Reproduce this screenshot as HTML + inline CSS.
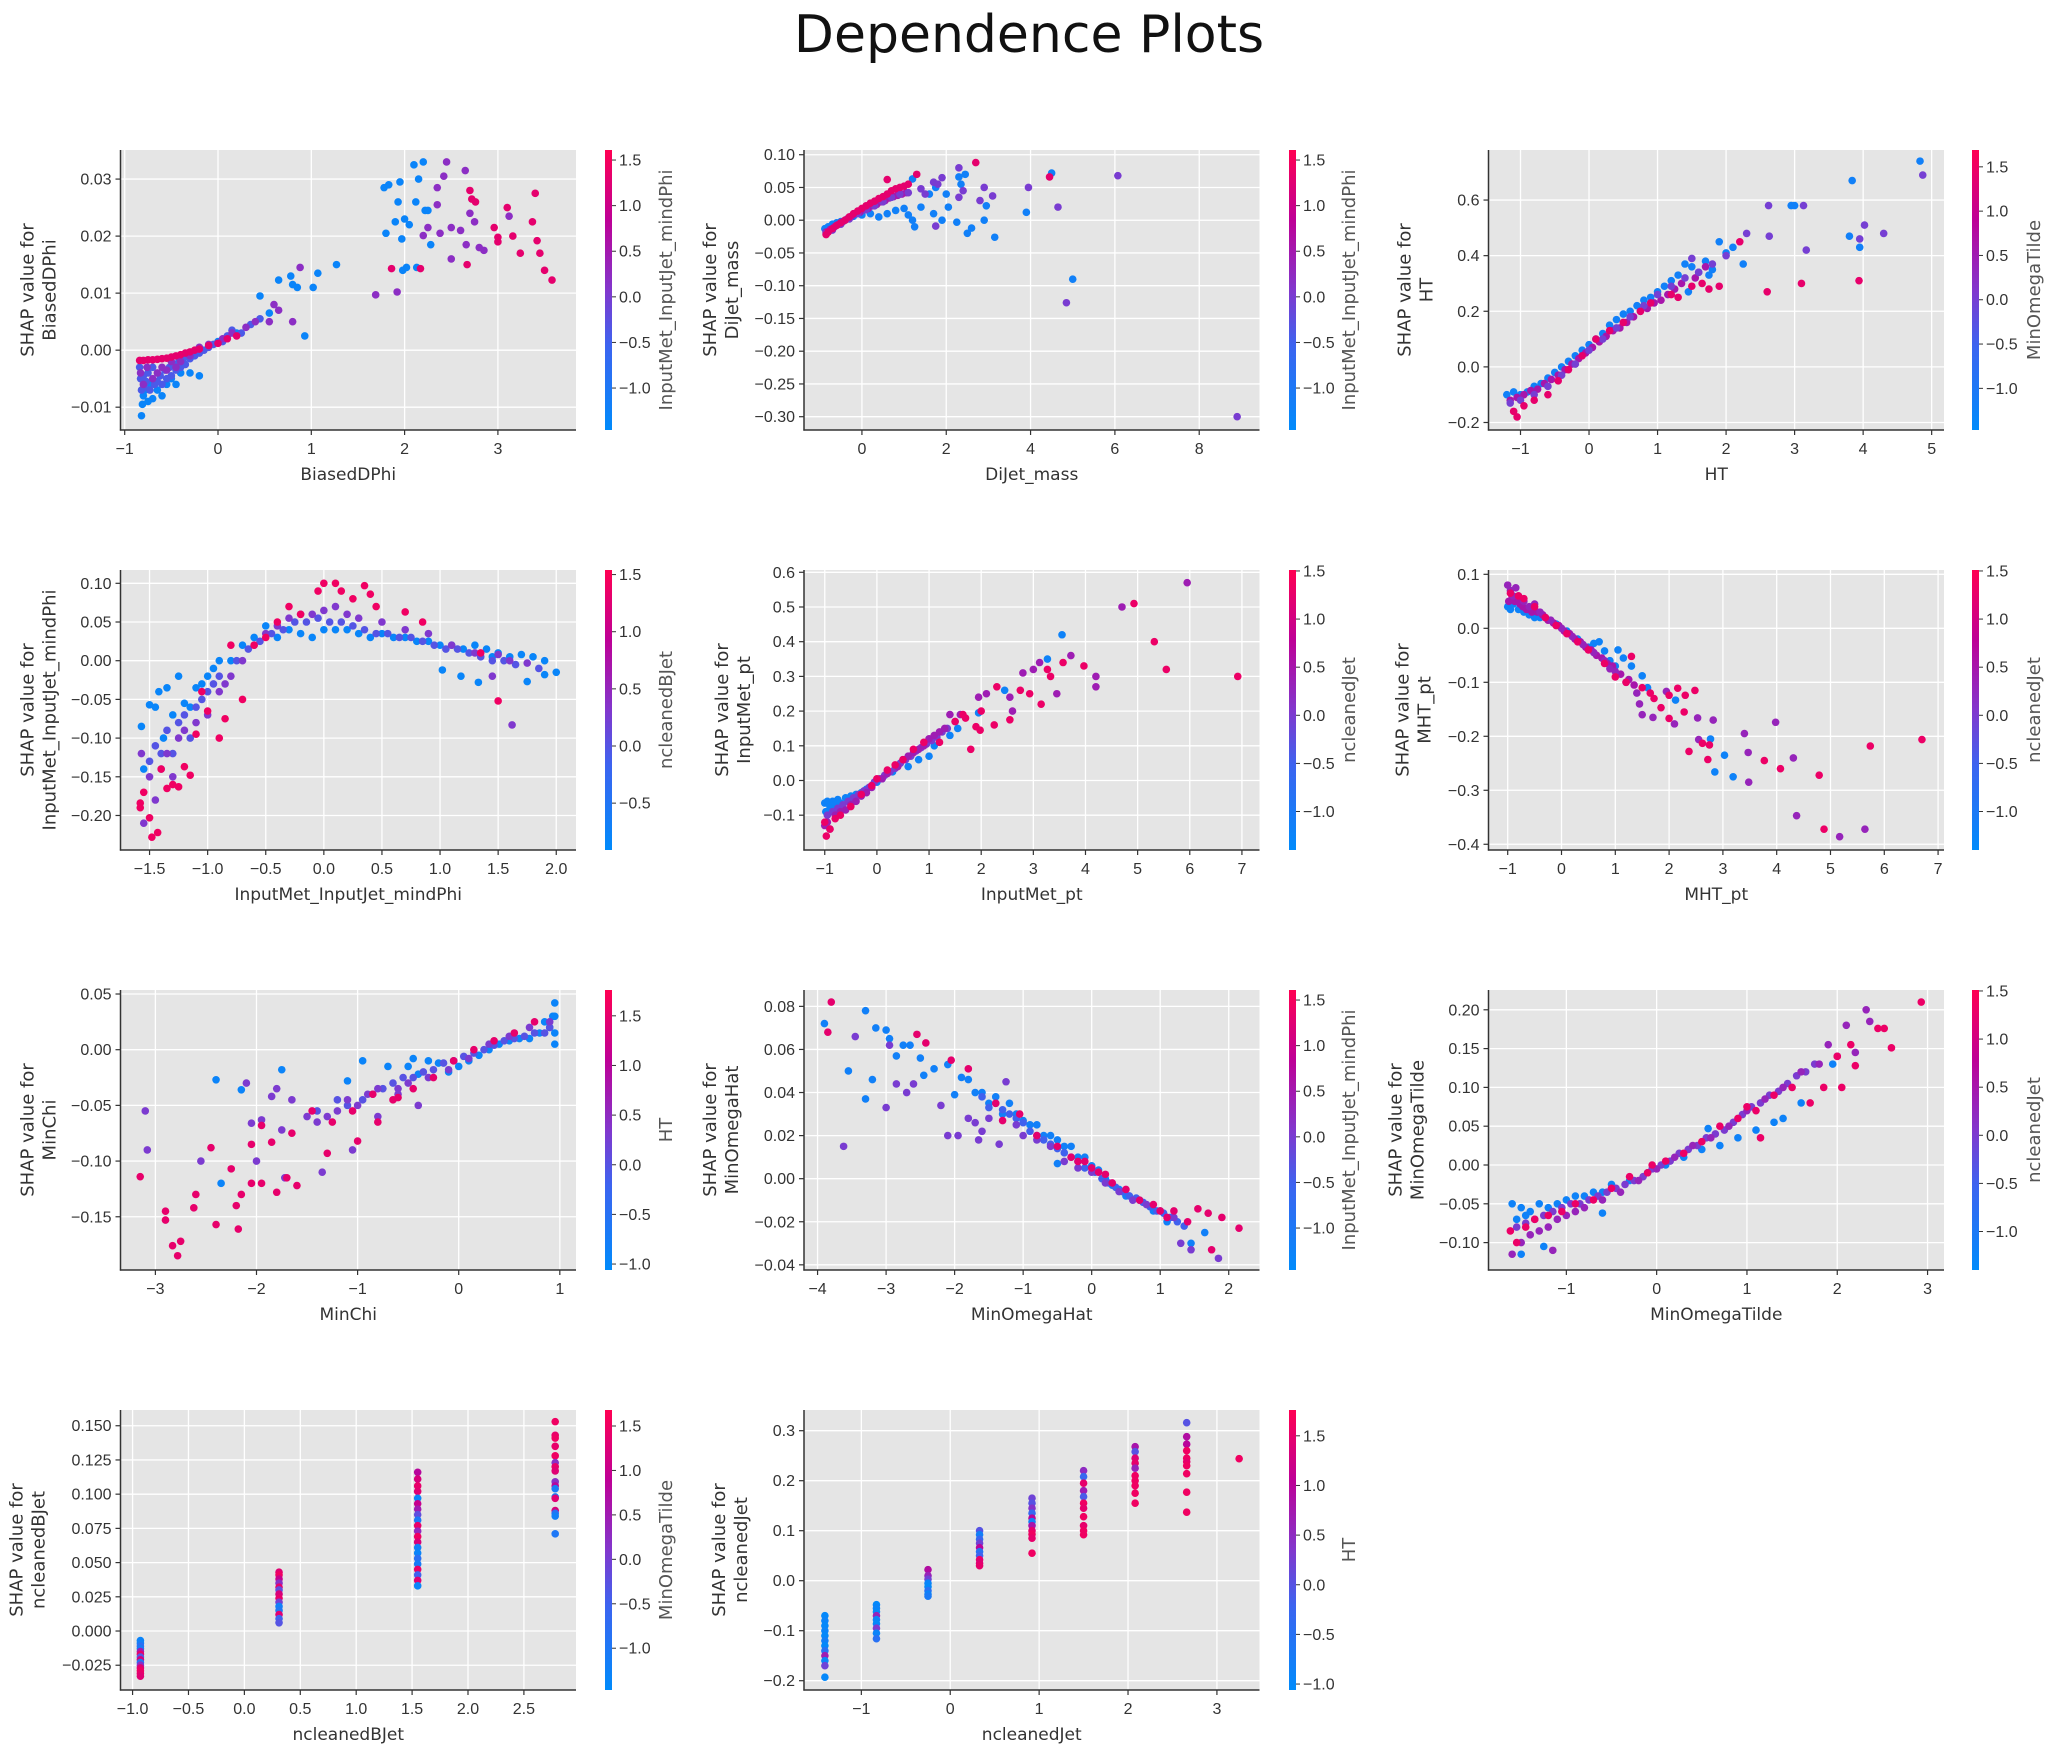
<!DOCTYPE html>
<html>
<head>
<meta charset="utf-8">
<style>
html,body{margin:0;padding:0;background:#fff;}
svg{display:block;}
</style>
</head>
<body>
<svg id="fig" xmlns="http://www.w3.org/2000/svg" width="2059" height="1748" viewBox="0 0 2059 1748">
<defs>
<linearGradient id="cmap" x1="0" y1="1" x2="0" y2="0">
<stop offset="0" stop-color="rgb(0,139,251)"/>
<stop offset="0.3" stop-color="rgb(60,100,240)"/>
<stop offset="0.5" stop-color="rgb(130,55,205)"/>
<stop offset="0.75" stop-color="rgb(190,0,150)"/>
<stop offset="1" stop-color="rgb(255,0,82)"/>
</linearGradient>
</defs>
<text x="1029" y="52" text-anchor="middle" font-family="DejaVu Sans, Liberation Sans, sans-serif" font-size="52" fill="#111">Dependence Plots</text>
</svg>
<script>
// ---------- data (hand-read estimates) ----------
// P1 BiasedDPhi
const p1_x = [[-0.82,-0.81,-0.8,-0.78,-0.75,-0.72,-0.7,-0.65,-0.6,-0.55,-0.5,-0.45,-0.4,-0.3,-0.2,0,0.2,0.45,0.55,0.65,0.78,0.8,0.85,1.02,1.07,1.27,0.93,1.78,1.8,1.83,1.95,1.97,2.0,2.05,2.1,2.12,2.15,2.2,2.22,2.25,2.28,1.9,1.93,2.02,2.13,1.98],
 [-0.84,-0.83,-0.82,-0.8,-0.79,-0.77,-0.75,-0.73,-0.7,-0.68,-0.65,-0.62,-0.6,-0.57,-0.55,-0.52,-0.5,-0.47,-0.45,-0.42,-0.4,-0.37,-0.35,-0.3,-0.25,-0.2,-0.15,-0.1,-0.05,0.05,0.1,0.15,0.25,0.35,0.45],
 [-0.83,-0.8,-0.76,-0.7,-0.65,-0.6,-0.55,-0.5,-0.45,-0.4,-0.3,-0.2,-0.1,0.05,0.15,0.3,0.4,0.55,0.6,0.65,0.8,0.88,2.35,2.42,2.45,2.5,2.6,2.65,2.7,2.75,2.8,2.25,2.35,2.38,2.5,2.66,2.85,1.69,1.92,3.12,2.2],
 [-0.84,-0.8,-0.75,-0.7,-0.65,-0.6,-0.55,-0.5,-0.45,-0.4,-0.35,-0.3,-0.25,-0.2,-0.1,0.0,0.1,0.2,2.7,2.72,2.76,2.96,3.0,3.1,3.16,3.24,3.37,3.4,3.45,3.5,3.58,3.42,1.86,2.17,2.67,3.0]];
const p1_y = [[-0.0115,-0.0095,-0.008,-0.007,-0.009,-0.006,-0.0085,-0.007,-0.008,-0.006,-0.005,-0.006,-0.004,-0.004,-0.0045,0.0015,0.003,0.0095,0.0065,0.0123,0.013,0.0115,0.011,0.011,0.0135,0.015,0.0025,0.0285,0.0205,0.029,0.0295,0.0195,0.023,0.022,0.0325,0.026,0.03,0.033,0.0245,0.0245,0.0185,0.0225,0.026,0.0145,0.0145,0.014],
 [-0.003,-0.005,-0.007,-0.0045,-0.0065,-0.0055,-0.004,-0.007,-0.003,-0.006,-0.0055,-0.0045,-0.006,-0.0035,-0.005,-0.003,-0.0045,-0.0025,-0.0035,-0.002,-0.003,-0.0015,-0.0025,-0.0015,-0.001,-0.0005,0.0,0.0005,0.001,0.0015,0.0025,0.0035,0.003,0.0045,0.0055],
 [-0.004,-0.006,-0.003,-0.005,-0.004,-0.003,-0.0035,-0.002,-0.003,-0.002,-0.001,0.0005,0.001,0.002,0.003,0.004,0.005,0.005,0.008,0.007,0.005,0.0145,0.0285,0.0305,0.033,0.0215,0.021,0.0315,0.024,0.0225,0.018,0.0215,0.0255,0.0205,0.016,0.0185,0.0175,0.0097,0.0102,0.0235,0.0201],
 [-0.0018,-0.0018,-0.0017,-0.0017,-0.0016,-0.0015,-0.0014,-0.0012,-0.001,-0.0008,-0.0005,-0.0003,0,0.0002,0.0008,0.0012,0.002,0.0025,0.028,0.0265,0.026,0.0215,0.019,0.025,0.02,0.017,0.0225,0.0275,0.017,0.014,0.0123,0.0192,0.0143,0.0143,0.015,0.0198]];
const p1_c = [-1.3, -0.4, 0.2, 1.3];

// P2 DiJet_mass
const p2_x = [[-0.88,-0.8,-0.7,-0.6,-0.5,-0.4,-0.3,-0.2,0,0.2,0.4,0.6,0.8,1.0,1.1,1.2,1.25,1.4,1.6,1.7,1.9,2.0,2.05,2.25,2.3,2.35,2.45,2.5,2.6,2.9,2.95,3.15,1.75,1.2,4.5,3.9,5.0],
 [-0.85,-0.75,-0.65,-0.55,-0.45,-0.35,-0.25,-0.15,-0.05,0.05,0.15,0.25,0.35,0.45,0.55,0.65,0.75,0.85,0.95,1.05],
 [-0.85,-0.7,-0.5,-0.3,-0.1,0.1,0.3,0.5,0.7,0.9,1.1,1.4,1.5,1.7,1.8,1.9,2.3,2.4,2.8,2.9,3.1,1.75,2.3,3.95,4.65,4.85,6.07,8.9],
 [-0.85,-0.8,-0.7,-0.6,-0.5,-0.4,-0.3,-0.2,-0.1,0,0.1,0.2,0.3,0.4,0.5,0.6,0.7,0.8,0.9,1.0,1.1,2.7,1.3,0.6,4.45]];
const p2_y = [[-0.013,-0.01,-0.006,-0.004,-0.002,0.0,0.003,0.006,0.008,0.01,0.005,0.01,0.015,0.018,0.008,0.0,-0.01,0.02,0.04,0.01,0.0,0.04,0.02,-0.003,0.066,0.055,0.07,-0.02,-0.012,0.0,0.022,-0.026,0.05,0.063,0.072,0.012,-0.09],
 [-0.018,-0.014,-0.01,-0.006,-0.002,0.002,0.006,0.01,0.012,0.016,0.018,0.022,0.024,0.028,0.03,0.034,0.036,0.038,0.04,0.042],
 [-0.02,-0.015,-0.006,0.002,0.01,0.016,0.022,0.028,0.035,0.04,0.042,0.048,0.04,0.058,0.055,0.065,0.035,0.045,0.03,0.05,0.037,-0.009,0.08,0.05,0.02,-0.126,0.068,-0.30],
 [-0.022,-0.018,-0.013,-0.008,-0.004,0.0,0.005,0.01,0.014,0.018,0.022,0.026,0.029,0.033,0.036,0.04,0.045,0.048,0.05,0.052,0.055,0.088,0.07,0.062,0.066]];
const p2_c = [-1.2, 0.5, 0.0, 1.3];

// P3 HT
const p3_x = [[-1.2,-1.1,-1.0,-0.9,-0.8,-0.7,-0.6,-0.5,-0.4,-0.3,-0.2,-0.1,0,0.1,0.2,0.3,0.4,0.5,0.6,0.7,0.8,0.9,1.0,1.1,1.2,1.3,1.4,1.5,1.6,1.7,1.75,1.8,1.9,2.0,2.1,2.25,3.84,4.83,2.95,3.0,3.8,3.95,1.45],
 [-1.15,-1.05,-0.95,-0.85,-0.75,-0.65,-0.55,-0.45,-0.35,-0.25,-0.15,-0.05,0.05,0.15,0.25,0.35,0.45,0.55,0.65,0.75,0.85,0.95,1.05,1.15,1.25,1.35,1.55,1.7],
 [-1.15,-1.0,-0.8,-0.6,-0.4,-0.2,0,0.2,0.4,0.6,0.8,1.0,1.2,1.4,1.6,1.8,2.0,2.3,2.62,2.63,3.13,3.17,3.95,4.02,4.3,4.87,1.5],
 [-1.1,-1.05,-0.95,-0.8,-0.6,-0.45,-0.3,-0.1,0.1,0.3,0.5,0.75,0.9,1.2,1.3,1.5,1.65,1.9,2.2,2.6,3.1,3.94,1.75]];
const p3_y = [[-0.10,-0.09,-0.1,-0.09,-0.07,-0.06,-0.04,-0.02,0.0,0.02,0.04,0.06,0.08,0.1,0.12,0.15,0.17,0.19,0.2,0.22,0.24,0.25,0.27,0.29,0.31,0.33,0.37,0.36,0.34,0.38,0.33,0.35,0.45,0.41,0.43,0.37,0.67,0.74,0.58,0.58,0.47,0.43,0.27],
 [-0.12,-0.11,-0.1,-0.085,-0.08,-0.06,-0.045,-0.03,-0.01,0.01,0.03,0.05,0.07,0.09,0.11,0.13,0.14,0.16,0.18,0.2,0.21,0.23,0.24,0.26,0.28,0.3,0.32,0.36],
 [-0.13,-0.12,-0.1,-0.07,-0.03,0.01,0.06,0.1,0.14,0.18,0.22,0.26,0.29,0.32,0.34,0.37,0.40,0.48,0.58,0.47,0.58,0.42,0.46,0.51,0.48,0.69,0.39],
 [-0.16,-0.18,-0.14,-0.12,-0.1,-0.05,-0.01,0.04,0.1,0.13,0.16,0.2,0.23,0.26,0.25,0.29,0.3,0.29,0.45,0.27,0.3,0.31,0.28]];
const p3_c = [-1.2, 0.6, 0.0, 1.4];

// P4 InputMet_InputJet_mindPhi
const p4_x = [[-1.57,-1.55,-1.5,-1.45,-1.42,-1.38,-1.35,-1.3,-1.25,-1.2,-1.15,-1.1,-1.05,-1.0,-0.95,-0.9,-0.8,-0.7,-0.6,-0.5,-0.4,-0.3,-0.2,-0.1,0,0.1,0.2,0.3,0.4,0.5,0.6,0.7,0.8,0.9,1.0,1.1,1.2,1.3,1.4,1.5,1.6,1.7,1.8,1.9,2.0,1.02,1.18,1.33,1.75,1.9,1.45],
 [-1.5,-1.45,-1.4,-1.35,-1.3,-1.25,-1.2,-1.15,-1.1,-1.05,-1.0,-0.95,-0.9,-0.75,-0.65,-0.55,-0.45,-0.35,-0.25,-0.15,-0.05,0.05,0.15,0.25,0.35,0.45,0.55,0.65,0.75,0.85,0.95,1.05,1.15,1.25,1.35,1.45,1.55,1.65,1.85],
 [-1.57,-1.55,-1.5,-1.45,-1.4,-1.35,-1.3,-1.25,-1.2,-1.1,-1.0,-0.9,-0.85,-0.8,-0.7,-0.6,-0.5,-0.4,-0.3,-0.2,-0.1,0,0.1,0.2,0.3,0.5,0.7,0.9,1.1,1.3,1.5,1.6,1.75,1.45,1.62],
 [-1.58,-1.55,-1.5,-1.48,-1.43,-1.4,-1.35,-1.3,-1.2,-1.1,-1.05,-1.0,-0.9,-0.85,-0.8,-0.7,-0.6,-0.5,-0.4,-0.3,-0.2,-0.05,0.0,0.1,0.15,0.25,0.35,0.4,0.45,0.7,0.85,1.35,1.5,-1.25,-1.15,-1.58]];
const p4_y = [[-0.085,-0.14,-0.057,-0.06,-0.04,-0.1,-0.035,-0.07,-0.02,-0.055,-0.06,-0.035,-0.03,-0.02,-0.01,0.0,0.0,0.02,0.03,0.045,0.03,0.04,0.035,0.03,0.04,0.04,0.04,0.035,0.03,0.035,0.03,0.03,0.025,0.025,0.02,0.02,0.015,0.02,0.015,0.01,0.005,0.008,0.005,0.0,-0.015,-0.012,-0.02,-0.028,-0.027,-0.018,0.005],
 [-0.13,-0.11,-0.12,-0.09,-0.12,-0.08,-0.07,-0.1,-0.06,-0.05,-0.04,-0.03,-0.02,0.0,0.015,0.025,0.035,0.04,0.05,0.05,0.055,0.05,0.05,0.045,0.04,0.035,0.035,0.03,0.03,0.025,0.02,0.015,0.015,0.01,0.005,0.0,0.0,-0.005,-0.01],
 [-0.12,-0.21,-0.15,-0.18,-0.14,-0.12,-0.15,-0.1,-0.09,-0.08,-0.07,-0.04,-0.03,-0.02,0.0,0.02,0.035,0.045,0.055,0.06,0.06,0.065,0.07,0.06,0.055,0.05,0.04,0.035,0.02,0.01,0.008,0.0,-0.003,-0.02,-0.083],
 [-0.19,-0.17,-0.203,-0.228,-0.222,-0.14,-0.165,-0.16,-0.137,-0.095,-0.04,-0.065,-0.10,-0.075,0.02,-0.05,0.02,0.03,0.05,0.07,0.06,0.09,0.1,0.1,0.09,0.08,0.097,0.086,0.07,0.063,0.05,0.01,-0.052,-0.163,-0.148,-0.184]];
const p4_c = [-0.8, 0.0, 0.3, 1.4];

// P5 InputMet_pt
const p5_x = [[-1.0,-0.98,-0.95,-0.9,-0.85,-0.8,-0.75,-0.7,-0.6,-0.5,-0.4,-0.3,-0.2,-0.1,0,0.1,0.3,0.6,0.8,1.0,1.1,1.4,1.55,1.95,2.45,3.27,3.55],
 [-0.95,-0.85,-0.75,-0.65,-0.55,-0.45,-0.35,-0.25,-0.15,-0.05,0.05,0.15,0.25,0.35,0.45,0.55,0.65,0.75,0.85,0.95,1.05,1.15,1.25,1.35,1.5],
 [-1.0,-0.95,-0.9,-0.8,-0.7,-0.6,-0.5,-0.4,-0.3,-0.2,-0.1,0.1,0.2,0.4,0.5,0.6,0.7,0.8,0.9,1.0,1.1,1.2,1.3,1.4,1.6,1.95,2.1,2.55,2.6,2.8,3.0,3.12,3.45,3.72,4.2,4.2,4.7,5.95],
 [-1.0,-0.97,-0.9,-0.8,-0.7,-0.5,-0.3,-0.1,0.0,0.2,0.35,0.5,0.7,0.9,1.2,1.5,1.7,1.8,1.9,1.98,2.0,2.25,2.3,2.55,2.75,2.93,3.15,3.27,3.33,3.57,3.97,4.93,5.32,5.55,6.92,1.65]];
const p5_y = [[-0.065,-0.09,-0.06,-0.075,-0.06,-0.07,-0.055,-0.065,-0.05,-0.045,-0.04,-0.035,-0.025,-0.015,-0.005,0.005,0.025,0.04,0.06,0.07,0.1,0.13,0.15,0.195,0.26,0.35,0.42],
 [-0.1,-0.09,-0.08,-0.07,-0.06,-0.05,-0.04,-0.03,-0.02,-0.005,0.005,0.015,0.025,0.035,0.05,0.06,0.07,0.085,0.095,0.105,0.115,0.125,0.14,0.15,0.17],
 [-0.13,-0.12,-0.14,-0.1,-0.09,-0.085,-0.07,-0.06,-0.045,-0.035,-0.02,0.005,0.02,0.04,0.06,0.07,0.08,0.09,0.1,0.12,0.13,0.14,0.15,0.19,0.19,0.24,0.25,0.24,0.2,0.31,0.32,0.34,0.25,0.36,0.3,0.27,0.5,0.57],
 [-0.12,-0.16,-0.14,-0.11,-0.1,-0.075,-0.04,-0.015,0.005,0.03,0.045,0.06,0.09,0.11,0.11,0.17,0.18,0.09,0.155,0.145,0.2,0.16,0.27,0.175,0.26,0.25,0.22,0.32,0.3,0.34,0.33,0.51,0.4,0.32,0.3,0.19]];
const p5_c = [-1.2, 0.0, 0.4, 1.3];

// P6 MHT_pt
const p6_x = [[-1.0,-0.95,-0.9,-0.8,-0.7,-0.6,-0.5,-0.4,-0.3,-0.1,0.1,0.3,0.5,0.6,0.7,0.8,0.9,1.0,1.05,1.15,1.3,1.5,1.6,2.12,2.85,3.03,3.19,2.77],
 [-0.98,-0.92,-0.87,-0.82,-0.77,-0.72,-0.65,-0.55,-0.45,-0.35,-0.25,-0.15,-0.05,0.05,0.15,0.25,0.35,0.45,0.55,0.65,0.75,0.85,0.95,1.1,1.25,1.35],
 [-1.0,-0.95,-0.9,-0.85,-0.8,-0.7,-0.6,-0.5,-0.4,-0.3,-0.2,0,0.2,0.4,0.6,0.8,0.9,1.0,1.2,1.4,1.45,1.5,1.7,1.95,2.1,2.53,2.55,2.82,3.4,3.47,3.48,3.98,4.31,4.37,5.17,5.64],
 [-0.95,-0.8,-0.7,-0.5,-0.3,-0.1,0.1,0.3,0.5,0.8,1.0,1.2,1.3,1.5,1.65,1.72,1.85,2.0,2.16,2.3,2.48,2.0,2.28,2.37,2.62,2.72,2.75,3.77,4.07,4.79,4.88,5.74,6.7]];
const p6_y = [[0.04,0.035,0.045,0.035,0.03,0.025,0.02,0.02,0.02,0.008,-0.005,-0.02,-0.035,-0.028,-0.025,-0.042,-0.06,-0.07,-0.04,-0.055,-0.07,-0.088,-0.11,-0.133,-0.266,-0.235,-0.275,-0.205],
 [0.05,0.06,0.05,0.055,0.045,0.04,0.035,0.03,0.03,0.025,0.015,0.01,0.005,-0.005,-0.01,-0.02,-0.025,-0.035,-0.04,-0.05,-0.055,-0.065,-0.07,-0.085,-0.095,-0.105],
 [0.08,0.07,0.06,0.075,0.06,0.05,0.04,0.045,0.03,0.02,0.015,0.0,-0.015,-0.03,-0.045,-0.06,-0.075,-0.08,-0.1,-0.12,-0.14,-0.16,-0.165,-0.117,-0.177,-0.166,-0.206,-0.17,-0.195,-0.23,-0.285,-0.174,-0.24,-0.347,-0.386,-0.372],
 [0.065,0.06,0.055,0.04,0.02,0.005,-0.01,-0.025,-0.04,-0.065,-0.09,-0.1,-0.052,-0.11,-0.12,-0.13,-0.147,-0.124,-0.111,-0.124,-0.115,-0.167,-0.155,-0.228,-0.213,-0.243,-0.216,-0.245,-0.26,-0.272,-0.372,-0.218,-0.206]];
const p6_c = [-1.2, 0.5, 0.3, 1.3];

// P7 MinChi
const p7_x = [[0.95,0.95,0.95,0.95,0.93,0.9,0.85,0.8,0.7,0.6,0.5,0.4,0.3,0.2,0.1,0,-0.1,-0.2,-0.3,-0.4,-0.45,-0.5,-0.7,-0.95,-1.75,-2.4,-2.15,-2.35,-1.1],
 [0.9,0.85,0.75,0.65,0.55,0.45,0.35,0.25,0.15,0.05,-0.05,-0.15,-0.25,-0.35,-0.45,-0.55,-0.65,-0.75,-0.85,-0.95,-1.1,-1.2,-1.4],
 [0.9,0.7,0.5,0.3,0.1,-0.1,-0.3,-0.5,-0.6,-0.8,-0.9,-1.0,-1.1,-1.2,-1.3,-1.4,-1.5,-1.65,-1.75,-1.85,-1.95,-2.05,-2.1,-2.55,-3.08,-3.1,-1.35,-1.05,-0.8,-0.6,-0.4,-1.72,-2.0,-1.8],
 [0.75,0.55,0.35,0.15,-0.05,-0.25,-0.45,-0.65,-0.85,-1.05,-1.25,-1.45,-1.65,-1.85,-2.05,-2.25,-2.45,-2.6,-2.75,-2.78,-2.83,-2.9,-2.9,-2.62,-2.2,-2.4,-2.18,-1.95,-1.8,-1.7,-1.6,-1.3,-1.0,-0.8,-0.6,-3.15,-2.05,-2.15,-1.95]];
const p7_y = [[0.042,0.03,0.015,0.005,0.03,0.02,0.025,0.015,0.01,0.01,0.008,0.005,0.0,-0.005,-0.01,-0.015,-0.02,-0.012,-0.01,-0.022,-0.008,-0.015,-0.015,-0.01,-0.018,-0.027,-0.036,-0.12,-0.028],
 [0.02,0.015,0.015,0.012,0.01,0.008,0.004,0.0,-0.003,-0.006,-0.01,-0.012,-0.018,-0.02,-0.025,-0.025,-0.03,-0.035,-0.04,-0.045,-0.05,-0.045,-0.055],
 [0.025,0.02,0.012,0.005,-0.008,-0.018,-0.025,-0.03,-0.035,-0.035,-0.04,-0.05,-0.045,-0.055,-0.06,-0.065,-0.06,-0.045,-0.072,-0.042,-0.063,-0.066,-0.03,-0.1,-0.09,-0.055,-0.11,-0.09,-0.06,-0.04,-0.05,-0.115,-0.1,-0.035],
 [0.025,0.015,0.008,0.0,-0.01,-0.025,-0.035,-0.045,-0.04,-0.055,-0.065,-0.055,-0.075,-0.083,-0.085,-0.107,-0.088,-0.13,-0.172,-0.185,-0.176,-0.145,-0.153,-0.142,-0.14,-0.157,-0.161,-0.12,-0.128,-0.115,-0.122,-0.093,-0.082,-0.065,-0.043,-0.114,-0.12,-0.13,-0.068]];
const p7_c = [-0.9, 0.0, 0.3, 1.5];

// P8 MinOmegaHat
const p8_x = [[-3.9,-3.3,-3.15,-3.0,-2.95,-2.85,-2.75,-2.65,-2.5,-2.3,-2.1,-2.0,-1.9,-1.8,-1.7,-1.6,-1.5,-1.4,-1.3,-1.2,-1.1,-1.0,-0.9,-0.8,-0.7,-0.6,-0.5,-0.4,-0.3,-0.2,-0.1,0,0.1,0.2,0.3,0.4,0.5,0.7,0.9,1.1,1.45,1.65,-3.55,-3.3,-3.2,-2.45,-0.5],
 [-1.6,-1.5,-1.4,-1.3,-1.2,-1.1,-1.0,-0.9,-0.8,-0.7,-0.6,-0.5,-0.4,-0.3,-0.2,-0.1,0.05,0.15,0.25,0.35,0.45,0.55,0.65,0.75,0.85,0.95,1.05,1.15,1.25,1.35],
 [-3.62,-3.45,-2.95,-2.85,-2.7,-2.6,-2.2,-2.1,-1.95,-1.8,-1.7,-1.6,-1.5,-1.35,-1.25,-1.1,-1.0,-0.8,-0.6,-0.4,-0.2,0,0.2,0.4,0.6,0.8,1.0,1.2,1.45,1.85,1.3,-3.0,-1.65],
 [-3.8,-3.85,-2.55,-2.42,-2.05,-1.8,-1.3,-1.05,-0.8,-0.5,-0.3,-0.2,-0.1,0,0.1,0.2,0.3,0.5,0.7,0.9,1.0,1.1,1.2,1.4,1.55,1.7,1.9,2.15,1.75,-1.4]];
const p8_y = [[0.072,0.078,0.07,0.069,0.065,0.057,0.062,0.062,0.056,0.051,0.053,0.039,0.047,0.046,0.04,0.04,0.035,0.038,0.03,0.035,0.03,0.027,0.025,0.025,0.02,0.02,0.018,0.015,0.015,0.01,0.01,0.006,0.004,0.0,-0.003,-0.005,-0.008,-0.01,-0.015,-0.02,-0.03,-0.025,0.05,0.037,0.046,0.048,0.007],
 [0.038,0.033,0.035,0.032,0.03,0.028,0.026,0.022,0.02,0.018,0.016,0.014,0.012,0.01,0.008,0.005,0.003,0.0,-0.002,-0.004,-0.006,-0.008,-0.009,-0.011,-0.013,-0.015,-0.016,-0.018,-0.02,-0.022],
 [0.015,0.066,0.062,0.044,0.04,0.044,0.034,0.02,0.02,0.028,0.026,0.022,0.028,0.016,0.045,0.025,0.02,0.018,0.015,0.008,0.005,0.003,-0.002,-0.006,-0.01,-0.012,-0.015,-0.018,-0.033,-0.037,-0.03,0.033,0.018],
 [0.082,0.068,0.067,0.063,0.055,0.051,0.027,0.03,0.02,0.015,0.01,0.008,0.008,0.005,0.003,0.002,-0.002,-0.005,-0.01,-0.012,-0.015,-0.018,-0.015,-0.02,-0.014,-0.016,-0.018,-0.023,-0.033,0.035]];
const p8_c = [-1.2, -0.5, 0.0, 1.3];

// P9 MinOmegaTilde
const p9_x = [[-1.6,-1.55,-1.5,-1.45,-1.4,-1.3,-1.2,-1.1,-1.0,-0.9,-0.8,-0.7,-0.6,-0.5,-0.3,-0.1,0.1,0.3,0.5,0.7,0.9,1.1,1.3,1.4,1.6,1.95,-1.25,-1.5,0.57,-0.6],
 [-1.55,-1.45,-1.35,-1.25,-1.15,-1.05,-0.95,-0.85,-0.75,-0.65,-0.55,-0.45,-0.35,-0.25,-0.15,-0.05,0.05,0.15,0.25,0.35,0.45,0.55,0.65,0.75,0.85,0.95,1.05,1.15,1.25,1.35,1.45,1.55,1.65,1.75],
 [-1.6,-1.5,-1.4,-1.3,-1.2,-1.1,-1.0,-0.9,-0.8,-0.6,-0.4,-0.2,0,0.2,0.4,0.6,0.8,1.0,1.2,1.4,1.6,1.8,1.9,2.0,2.1,2.2,2.32,2.36,-1.15],
 [-1.62,-1.55,-1.45,-1.35,-1.2,-1.05,-0.9,-0.7,-0.5,-0.3,-0.1,-0.05,0.1,0.3,0.5,0.7,0.9,1.0,1.1,1.3,1.5,1.7,1.85,2.0,2.05,2.15,2.2,2.45,2.52,2.6,2.93,1.15]];
const p9_y = [[-0.05,-0.07,-0.055,-0.065,-0.06,-0.05,-0.055,-0.05,-0.045,-0.04,-0.04,-0.035,-0.035,-0.025,-0.02,-0.01,0.0,0.01,0.02,0.025,0.035,0.045,0.055,0.06,0.08,0.13,-0.105,-0.115,0.047,-0.062],
 [-0.08,-0.075,-0.07,-0.065,-0.06,-0.055,-0.05,-0.05,-0.045,-0.04,-0.035,-0.03,-0.025,-0.02,-0.015,-0.005,0.0,0.005,0.015,0.02,0.025,0.035,0.04,0.045,0.055,0.065,0.075,0.08,0.09,0.095,0.105,0.115,0.12,0.13],
 [-0.115,-0.1,-0.09,-0.085,-0.08,-0.07,-0.065,-0.06,-0.055,-0.045,-0.035,-0.02,-0.005,0.01,0.025,0.035,0.05,0.07,0.085,0.1,0.12,0.13,0.155,0.14,0.18,0.145,0.2,0.185,-0.11],
 [-0.085,-0.1,-0.08,-0.07,-0.065,-0.06,-0.05,-0.045,-0.03,-0.015,-0.01,0.0,0.005,0.015,0.03,0.05,0.06,0.075,0.07,0.09,0.1,0.08,0.1,0.14,0.1,0.155,0.128,0.176,0.176,0.151,0.21,0.035]];
const p9_c = [-1.2, 0.0, 0.3, 1.3];

// P10 ncleanedBJet (strips)
const p10_levels = [-0.93, 0.31, 1.55, 2.78];
const p10_y = [[-0.007,-0.009,-0.011,-0.013,-0.015,-0.017,-0.019,-0.021,-0.023,-0.025,-0.027,-0.029,-0.031,-0.033],
 [0.043,0.041,0.038,0.035,0.032,0.03,0.027,0.024,0.021,0.018,0.015,0.012,0.009,0.006],
 [0.116,0.111,0.106,0.102,0.097,0.093,0.089,0.085,0.081,0.077,0.073,0.069,0.065,0.061,0.057,0.053,0.049,0.045,0.041,0.037,0.033],
 [0.153,0.143,0.141,0.135,0.128,0.123,0.12,0.117,0.109,0.106,0.104,0.098,0.097,0.088,0.086,0.084,0.071]];
const p10_c = [[-1.3,-1.2,-0.8,-1.1,0.5,1.4,-0.3,1.2,-0.9,0.2,1.3,1.5,1.4,1.3],
 [1.3,1.5,1.0,0.2,1.4,-0.2,1.2,1.4,0.0,-1.2,-1.0,1.3,-0.5,-0.3],
 [0.8,1.2,1.4,1.3,-1.3,1.0,0.5,-0.2,-1.0,1.4,0.3,1.5,1.2,-1.2,-1.3,-0.8,-1.1,1.4,-0.5,1.3,-1.3],
 [1.5,1.4,1.5,1.4,1.5,0.2,1.4,1.3,0.2,0.8,-1.1,-1.2,1.3,1.2,-0.8,-1.2,-1.0]];

// P11 ncleanedJet (strips)
const p11_levels = [-1.41, -0.83, -0.25, 0.33, 0.92, 1.5, 2.08, 2.66, 3.25];
const p11_y = [[-0.07,-0.08,-0.09,-0.1,-0.11,-0.12,-0.13,-0.14,-0.15,-0.16,-0.17,-0.193],
 [-0.048,-0.055,-0.062,-0.07,-0.078,-0.086,-0.095,-0.105,-0.116],
 [0.022,0.01,0.003,-0.005,-0.012,-0.02,-0.027,-0.031],
 [0.1,0.092,0.083,0.075,0.066,0.058,0.05,0.042,0.035,0.03],
 [0.165,0.155,0.145,0.135,0.125,0.118,0.11,0.1,0.093,0.085,0.055],
 [0.22,0.208,0.195,0.18,0.168,0.155,0.145,0.128,0.11,0.1,0.092],
 [0.268,0.258,0.245,0.235,0.225,0.21,0.2,0.19,0.175,0.155],
 [0.316,0.288,0.273,0.26,0.245,0.238,0.23,0.214,0.177,0.137],
 [0.244]];
const p11_c = [[-1.0,-0.9,-1.0,-0.9,-1.0,-0.8,-1.0,-0.5,0.7,-0.9,0.2,-1.0],
 [-1.0,-0.9,-1.0,0.6,-0.9,-1.0,0.3,-0.9,-0.5],
 [0.9,0.6,0.2,-0.9,-1.0,-0.5,-0.9,-0.7],
 [0.0,-0.8,-0.3,0.2,1.0,-0.5,-0.2,1.5,1.4,1.5],
 [0.2,0.0,0.4,-0.3,1.0,-0.8,0.8,1.5,1.6,1.5,1.6],
 [0.5,-0.3,1.5,0.7,-0.1,1.6,1.5,1.6,1.5,1.6,1.6],
 [0.8,0.0,1.4,1.5,0.6,1.6,1.6,1.6,1.6,1.6],
 [0.0,0.9,1.0,1.6,1.6,1.5,1.6,1.6,1.6,1.6],
 [1.6]];

// tick label arrays
const p1_xt=[-1,0,1,2,3], p1_yt=[-0.01,0,0.01,0.02,0.03];
const p2_xt=[0,2,4,6,8], p2_yt=[-0.30,-0.25,-0.20,-0.15,-0.10,-0.05,0,0.05,0.10];
const p3_xt=[-1,0,1,2,3,4,5], p3_yt=[-0.2,0,0.2,0.4,0.6];
const p4_xt=[-1.5,-1.0,-0.5,0,0.5,1.0,1.5,2.0], p4_yt=[-0.20,-0.15,-0.10,-0.05,0,0.05,0.10];
const p5_xt=[-1,0,1,2,3,4,5,6,7], p5_yt=[-0.1,0,0.1,0.2,0.3,0.4,0.5,0.6];
const p6_xt=[-1,0,1,2,3,4,5,6,7], p6_yt=[-0.4,-0.3,-0.2,-0.1,0,0.1];
const p7_xt=[-3,-2,-1,0,1], p7_yt=[-0.15,-0.10,-0.05,0,0.05];
const p8_xt=[-4,-3,-2,-1,0,1,2], p8_yt=[-0.04,-0.02,0,0.02,0.04,0.06,0.08];
const p9_xt=[-1,0,1,2,3], p9_yt=[-0.10,-0.05,0,0.05,0.10,0.15,0.20];
const p10_xt=[-1.0,-0.5,0,0.5,1.0,1.5,2.0,2.5], p10_yt=[-0.025,0,0.025,0.05,0.075,0.10,0.125,0.15];
const p11_xt=[-1,0,1,2,3], p11_yt=[-0.2,-0.1,0,0.1,0.2,0.3];
const cb_std=[-1.0,-0.5,0,0.5,1.0,1.5], cb_p4=[-0.5,0,0.5,1.0,1.5];

// ---------- rendering ----------
const NS='http://www.w3.org/2000/svg';
const svg=document.getElementById('fig');
function el(tag,attrs,parent){const e=document.createElementNS(NS,tag);for(const k in attrs)e.setAttribute(k,attrs[k]);(parent||svg).appendChild(e);return e;}
function fmt(v,d){const s=Math.abs(v).toFixed(d);return (v<-1e-9?'\u2212':'')+s;}
const stops=[[0,[0,139,251]],[0.3,[60,100,240]],[0.5,[130,55,205]],[0.75,[190,0,150]],[1,[255,0,82]]];
function cmap(t){t=Math.max(0,Math.min(1,t));for(let i=1;i<stops.length;i++){if(t<=stops[i][0]){const a=stops[i-1],b=stops[i];const f=(t-a[0])/(b[0]-a[0]);const c=a[1].map((v,j)=>Math.round(v+(b[1][j]-v)*f));return 'rgb('+c.join(',')+')';}}return 'rgb(255,0,82)';}

const COLS=[120.5,804,1488.5], CBX=[605,1289,1972], CBL=[672,1355,2040];
const ROWS=[150,570,990,1410], W=455.5, H=280;

function plot(cfg){
  const L=COLS[cfg.col], T=ROWS[cfg.row];
  const g=el('g',{});
  
  
  const sx=v=>L+(v-cfg.xlim[0])/(cfg.xlim[1]-cfg.xlim[0])*W;
  const sy=v=>T+H-(v-cfg.ylim[0])/(cfg.ylim[1]-cfg.ylim[0])*H;
  const bg=el('rect',{x:L,y:T,width:W,height:H,fill:'#e5e5e5'},g);
  
  
  cfg.xt.forEach(v=>{const x=sx(v);el('line',{x1:x,x2:x,y1:T,y2:T+H,stroke:'#fff','stroke-width':1.3},g);
    el('line',{x1:x,x2:x,y1:T+H,y2:T+H+5,stroke:'#333','stroke-width':1.2},g);
    const t=el('text',{x:x,y:T+H+24,'text-anchor':'middle','font-family':'Liberation Sans, sans-serif','font-size':16,fill:'#333'},g);
    t.textContent=fmt(v,cfg.xd);
    
    });
  cfg.yt.forEach(v=>{const y=sy(v);el('line',{x1:L,x2:L+W,y1:y,y2:y,stroke:'#fff','stroke-width':1.3},g);
    el('line',{x1:L-5,x2:L,y1:y,y2:y,stroke:'#333','stroke-width':1.2},g);
    const t=el('text',{x:L-9,y:y+5.5,'text-anchor':'end','font-family':'Liberation Sans, sans-serif','font-size':16,fill:'#333'},g);
    t.textContent=fmt(v,cfg.yd);
    
    });
  const cnorm=v=>(v-cfg.crange[0])/(cfg.crange[1]-cfg.crange[0]);
  const pts=el('g',{},g);
  
  
  for(let gi=0;gi<cfg.X.length;gi++){
    const n=Math.min(cfg.X[gi].length,cfg.Y[gi].length);
    for(let i=0;i<n;i++){
      const cv=Array.isArray(cfg.C[gi])?cfg.C[gi][i]:cfg.C[gi];
      const c=el('circle',{cx:sx(cfg.X[gi][i]),cy:sy(cfg.Y[gi][i]),r:3.8,fill:cmap(cnorm(cv))},pts);
      
      
    }
  }
  el('line',{x1:L,x2:L,y1:T,y2:T+H+0.6,stroke:'#333','stroke-width':1.5},g);
  el('line',{x1:L-0.6,x2:L+W,y1:T+H,y2:T+H,stroke:'#333','stroke-width':1.5},g);
  const xl=el('text',{x:L+W/2,y:T+H+50,'text-anchor':'middle','font-family':'DejaVu Sans, sans-serif','font-size':17,fill:'#333'},g);
  xl.textContent=cfg.xlabel;
  
  
  const cy=T+H/2;
  const yl=el('text',{'text-anchor':'middle','font-family':'DejaVu Sans, sans-serif','font-size':18,fill:'#333',transform:'translate('+(L-cfg.ylo)+','+cy+') rotate(-90)'},g);
  
  
  const t1=el('tspan',{x:0,y:-16},yl);t1.textContent='SHAP value for';
  const t2=el('tspan',{x:0,y:6},yl);t2.textContent=cfg.xlabel;
  const cbx=CBX[cfg.col];
  const cb=el('rect',{x:cbx,y:T,width:7,height:H,fill:'url(#cmap)'},g);
  
  
  const cys=v=>T+H-cnorm(v)*H;
  cfg.ct.forEach(v=>{const y=cys(v);el('line',{x1:cbx+7,x2:cbx+11,y1:y,y2:y,stroke:'#333','stroke-width':1},g);
    const t=el('text',{x:cbx+14,y:y+5.5,'font-family':'Liberation Sans, sans-serif','font-size':16,fill:'#333'},g);
    t.textContent=fmt(v,1);
    
    });
  const cl=el('text',{'text-anchor':'middle','font-family':'DejaVu Sans, sans-serif','font-size':18,fill:'#555',transform:'translate('+CBL[cfg.col]+','+cy+') rotate(-90)'},g);
  cl.textContent=cfg.clabel;
  
  
}
function strips(levels,ys,cs){const X=[],Y=[],C=[];levels.forEach((lv,i)=>{X.push(ys[i].map(()=>lv));Y.push(ys[i]);C.push(cs[i]);});return {X,Y,C};}

plot({id:'biaseddphi',row:0,col:0,xlim:[-1.045,3.837],ylim:[-0.0140,0.0351],xt:p1_xt,xd:0,yt:p1_yt,yd:2,X:p1_x,Y:p1_y,C:p1_c,crange:[-1.46,1.61],ct:cb_std,xlabel:'BiasedDPhi',clabel:'InputMet_InputJet_mindPhi',ylo:71});
plot({id:'dijet-mass',row:0,col:1,xlim:[-1.374,9.43],ylim:[-0.3203,0.1072],xt:p2_xt,xd:0,yt:p2_yt,yd:2,X:p2_x,Y:p2_y,C:p2_c,crange:[-1.46,1.61],ct:cb_std,xlabel:'DiJet_mass',clabel:'InputMet_InputJet_mindPhi',ylo:72});
plot({id:'ht',row:0,col:2,xlim:[-1.467,5.18],ylim:[-0.227,0.780],xt:p3_xt,xd:0,yt:p3_yt,yd:1,X:p3_x,Y:p3_y,C:p3_c,crange:[-1.47,1.69],ct:cb_std,xlabel:'HT',clabel:'MinOmegaTilde',ylo:62});
plot({id:'mindphi',row:1,col:0,xlim:[-1.750,2.170],ylim:[-0.2446,0.1172],xt:p4_xt,xd:1,yt:p4_yt,yd:2,X:p4_x,Y:p4_y,C:p4_c,crange:[-0.91,1.54],ct:cb_p4,xlabel:'InputMet_InputJet_mindPhi',clabel:'ncleanedBJet',ylo:71});
plot({id:'inputmet-pt',row:1,col:1,xlim:[-1.398,7.337],ylim:[-0.2003,0.6066],xt:p5_xt,xd:0,yt:p5_yt,yd:1,X:p5_x,Y:p5_y,C:p5_c,crange:[-1.40,1.51],ct:cb_std,xlabel:'InputMet_pt',clabel:'ncleanedJet',ylo:60});
plot({id:'mht-pt',row:1,col:2,xlim:[-1.357,7.11],ylim:[-0.4106,0.108],xt:p6_xt,xd:0,yt:p6_yt,yd:1,X:p6_x,Y:p6_y,C:p6_c,crange:[-1.40,1.51],ct:cb_std,xlabel:'MHT_pt',clabel:'ncleanedJet',ylo:64});
plot({id:'minchi',row:2,col:0,xlim:[-3.345,1.160],ylim:[-0.1978,0.0536],xt:p7_xt,xd:0,yt:p7_yt,yd:2,X:p7_x,Y:p7_y,C:p7_c,crange:[-1.06,1.76],ct:cb_std,xlabel:'MinChi',clabel:'HT',ylo:71});
plot({id:'minomegahat',row:2,col:1,xlim:[-4.198,2.449],ylim:[-0.0424,0.0876],xt:p8_xt,xd:0,yt:p8_yt,yd:2,X:p8_x,Y:p8_y,C:p8_c,crange:[-1.46,1.61],ct:cb_std,xlabel:'MinOmegaHat',clabel:'InputMet_InputJet_mindPhi',ylo:72});
plot({id:'minomegatilde',row:2,col:2,xlim:[-1.862,3.182],ylim:[-0.1353,0.2255],xt:p9_xt,xd:0,yt:p9_yt,yd:2,X:p9_x,Y:p9_y,C:p9_c,crange:[-1.40,1.51],ct:cb_std,xlabel:'MinOmegaTilde',clabel:'ncleanedJet',ylo:71});
const s10=strips(p10_levels,p10_y,p10_c);
plot({id:'ncleanedbjet',row:3,col:0,xlim:[-1.108,2.966],ylim:[-0.0431,0.1615],xt:p10_xt,xd:1,yt:p10_yt,yd:3,X:s10.X,Y:s10.Y,C:s10.C,crange:[-1.47,1.68],ct:cb_std,xlabel:'ncleanedBJet',clabel:'MinOmegaTilde',ylo:82});
const s11=strips(p11_levels,p11_y,p11_c);
plot({id:'ncleanedjet',row:3,col:1,xlim:[-1.645,3.479],ylim:[-0.2186,0.3414],xt:p11_xt,xd:0,yt:p11_yt,yd:1,X:s11.X,Y:s11.Y,C:s11.C,crange:[-1.06,1.76],ct:cb_std,xlabel:'ncleanedJet',clabel:'HT',ylo:63});
</script>
</body>
</html>
